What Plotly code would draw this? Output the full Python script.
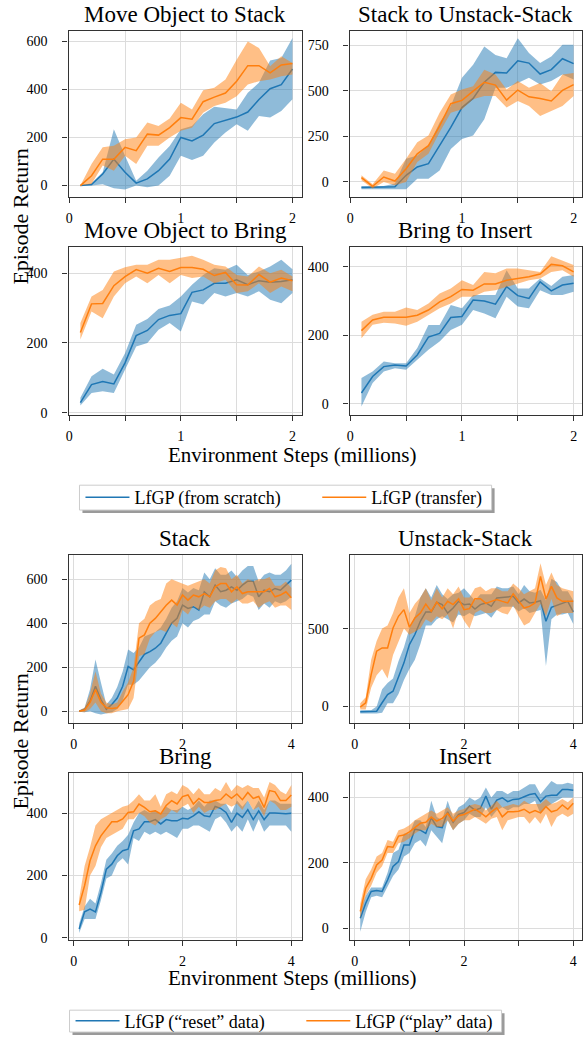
import plotly.graph_objects as go

W, H = 583, 1045
FONT = "Liberation Serif, Times New Roman, Times, DejaVu Serif, serif"
BLUE = "#1f77b4"
ORANGE = "#ff7f0e"
BLUE_FILL = "rgba(31,119,180,0.5)"
ORANGE_FILL = "rgba(255,127,14,0.5)"

# ---------------- data ----------------
x_top = [round(0.1 * i, 1) for i in range(1, 21)]
x_bot = [round(0.1 * i, 1) for i in range(1, 41)]

# Panel 1: Move Object to Stack
p1_blue = [0, 4, 48, 110, 55, 10, 28, 62, 110, 200, 186, 210, 258, 272, 285, 306, 358, 403, 420, 485]
p1_blue_lo = [0, 0, 5, -11, -16, 0, -7, 0, 41, 124, 106, 124, 179, 221, 255, 228, 290, 283, 310, 359]
p1_blue_hi = [0, 10, 55, 234, 124, 20, 62, 117, 165, 234, 248, 297, 328, 324, 317, 386, 428, 521, 531, 614]
p1_orange = [0, 41, 110, 110, 159, 145, 214, 210, 241, 283, 276, 349, 368, 385, 434, 499, 499, 469, 502, 508]
p1_orange_lo = [0, 7, 83, 62, 124, 90, 166, 166, 200, 228, 241, 303, 331, 345, 372, 421, 434, 441, 455, 462]
p1_orange_hi = [0, 90, 159, 166, 193, 200, 262, 248, 279, 345, 317, 397, 407, 441, 524, 600, 572, 497, 538, 510]

# Panel 2: Stack to Unstack-Stack
p2_blue = [-31, -31, -31, -27, 36, 82, 100, 199, 299, 408, 458, 547, 601, 598, 665, 652, 592, 616, 676, 649]
p2_blue_lo = [-40, -40, -40, -40, -40, 18, 18, 63, 181, 236, 254, 344, 516, 516, 543, 571, 534, 553, 589, 562]
p2_blue_hi = [-22, -22, -22, -9, 127, 145, 199, 326, 417, 571, 643, 743, 697, 679, 788, 707, 652, 688, 752, 752]
p2_orange = [24, -24, 27, 5, 72, 154, 199, 308, 429, 447, 498, 547, 531, 449, 504, 467, 458, 444, 502, 534]
p2_orange_lo = [9, -36, 0, -18, 0, 109, 154, 272, 380, 399, 453, 471, 471, 408, 444, 417, 362, 389, 417, 471]
p2_orange_hi = [36, -13, 63, 45, 127, 217, 254, 380, 480, 507, 525, 616, 589, 507, 553, 516, 543, 498, 589, 598]

# Panel 3: Move Object to Bring
p3_blue = [29, 81, 90, 83, 143, 221, 236, 267, 279, 284, 345, 352, 371, 371, 381, 367, 378, 374, 376, 381]
p3_blue_lo = [21, 57, 62, 57, 124, 190, 200, 238, 257, 233, 319, 310, 343, 333, 343, 333, 348, 324, 314, 343]
p3_blue_hi = [43, 105, 126, 110, 171, 252, 269, 297, 307, 333, 367, 395, 414, 410, 424, 395, 405, 419, 438, 411]
p3_orange = [230, 312, 313, 364, 390, 410, 400, 414, 405, 416, 416, 411, 393, 402, 367, 366, 396, 374, 386, 378]
p3_orange_lo = [210, 290, 271, 333, 371, 390, 371, 395, 371, 395, 386, 390, 371, 381, 343, 348, 371, 343, 362, 348]
p3_orange_hi = [257, 333, 352, 405, 417, 424, 424, 438, 438, 443, 450, 438, 424, 419, 395, 390, 419, 400, 410, 390]

# Panel 4: Bring to Insert
p4_blue = [32, 80, 109, 114, 111, 143, 195, 206, 252, 255, 303, 300, 291, 342, 316, 308, 356, 330, 347, 352]
p4_blue_lo = [-7, 61, 95, 104, 100, 129, 158, 182, 216, 231, 274, 264, 250, 313, 284, 279, 332, 318, 318, 327]
p4_blue_hi = [76, 95, 124, 119, 119, 163, 230, 230, 289, 279, 318, 318, 318, 390, 337, 337, 366, 344, 371, 376]
p4_orange = [214, 245, 253, 252, 253, 259, 274, 298, 313, 334, 332, 350, 350, 361, 366, 371, 379, 407, 403, 385]
p4_orange_lo = [192, 231, 237, 235, 228, 240, 260, 279, 293, 313, 313, 327, 332, 342, 352, 361, 366, 385, 390, 371]
p4_orange_hi = [240, 260, 269, 269, 281, 274, 293, 322, 337, 361, 347, 385, 381, 395, 395, 390, 385, 431, 419, 405]

# Panel 5: Stack
p5_blue = [0, 8, 45, 113, 53, 8, 30, 60, 113, 203, 188, 226, 259, 271, 286, 309, 354, 400, 422, 482,
           467, 475, 460, 543, 520, 573, 543, 550, 565, 550, 573, 591, 591, 520, 550, 543, 558, 550, 573, 596]
p5_blue_lo = [-3, -5, 0, -10, -15, -10, -5, 10, 50, 120, 120, 140, 170, 200, 220, 250, 290, 320, 340, 400,
              380, 410, 420, 440, 440, 500, 480, 470, 490, 500, 510, 530, 520, 460, 490, 470, 500, 490, 500, 520]
p5_blue_hi = [3, 15, 100, 235, 130, 30, 60, 110, 180, 280, 265, 290, 340, 350, 360, 380, 420, 470, 500, 560,
              540, 560, 550, 630, 600, 650, 620, 620, 640, 610, 640, 660, 660, 590, 620, 630, 620, 620, 640, 670]
p5_orange = [0, 5, 40, 98, 40, 15, 12, 15, 45, 75, 136, 332, 347, 400, 422, 452, 482, 505, 482, 528,
             505, 528, 520, 535, 520, 565, 580, 580, 543, 565, 535, 543, 543, 543, 543, 558, 520, 528, 543, 516]
p5_orange_lo = [-3, -5, 10, 40, 0, -10, -10, 0, 5, 10, 60, 250, 260, 330, 360, 370, 360, 400, 380, 460,
                440, 480, 460, 480, 470, 500, 510, 510, 490, 510, 490, 490, 500, 470, 490, 500, 470, 480, 480, 460]
p5_orange_hi = [3, 15, 80, 180, 80, 40, 30, 40, 90, 130, 200, 400, 420, 480, 500, 510, 580, 600, 590, 580,
                570, 580, 590, 600, 580, 640, 655, 650, 600, 620, 580, 600, 590, 600, 600, 610, 570, 570, 590, 560]

# Panel 6: Unstack-Stack
p6_blue = [-34, -34, -34, -30, 24, 77, 98, 184, 280, 397, 462, 547, 607, 607, 669, 654, 600, 632, 675, 654,
           658, 626, 654, 665, 643, 697, 701, 701, 707, 665, 690, 665, 669, 679, 547, 637, 650, 665, 675, 607]
p6_blue_lo = [-45, -45, -45, -45, -40, 20, 20, 80, 170, 240, 300, 400, 520, 520, 560, 580, 560, 540, 590, 580,
              600, 580, 590, 600, 570, 620, 640, 640, 640, 610, 630, 600, 610, 620, 260, 560, 590, 590, 600, 530]
p6_blue_hi = [-25, -25, -25, 0, 110, 150, 180, 290, 380, 500, 580, 700, 760, 700, 780, 720, 690, 720, 730, 760,
              720, 680, 720, 720, 720, 770, 760, 760, 770, 720, 780, 740, 730, 750, 680, 820, 800, 740, 740, 680]
p6_orange = [-4, 24, 205, 355, 376, 376, 504, 579, 622, 509, 568, 600, 658, 611, 671, 628, 675, 654, 692, 622,
             628, 692, 692, 662, 675, 686, 675, 665, 724, 675, 632, 643, 665, 835, 690, 771, 697, 675, 675, 675]
p6_orange_lo = [-20, -20, 120, 200, 240, 180, 330, 420, 500, 460, 480, 500, 560, 540, 580, 560, 590, 500, 620, 550,
                500, 600, 620, 600, 600, 620, 600, 590, 650, 580, 520, 540, 600, 660, 580, 690, 580, 600, 600, 600]
p6_orange_hi = [20, 60, 300, 420, 500, 520, 600, 700, 760, 600, 660, 700, 760, 680, 760, 700, 760, 720, 770, 700,
                700, 760, 770, 740, 760, 760, 740, 740, 790, 760, 720, 740, 760, 920, 780, 860, 780, 760, 750, 740]

# Panel 7: Bring
p7_blue = [28, 83, 92, 83, 145, 220, 236, 263, 279, 284, 343, 349, 372, 372, 379, 365, 379, 375, 375, 383,
           381, 391, 404, 391, 388, 421, 415, 402, 370, 400, 386, 411, 379, 407, 379, 400, 400, 398, 398, 399]
p7_blue_lo = [15, 60, 60, 60, 120, 190, 200, 240, 255, 235, 320, 310, 340, 330, 340, 330, 340, 330, 320, 350,
              350, 360, 360, 350, 340, 380, 390, 370, 340, 360, 340, 380, 340, 380, 340, 360, 360, 360, 360, 340]
p7_blue_hi = [45, 100, 125, 110, 175, 250, 270, 295, 310, 330, 370, 400, 410, 400, 410, 395, 420, 410, 410, 420,
              410, 420, 440, 420, 440, 440, 430, 430, 400, 440, 420, 440, 410, 440, 410, 440, 440, 430, 430, 430]
p7_orange = [105, 167, 247, 295, 327, 351, 372, 372, 381, 402, 404, 429, 418, 404, 407, 397, 424, 440, 429, 453,
             458, 429, 447, 434, 434, 440, 443, 461, 447, 461, 443, 466, 447, 453, 418, 472, 468, 440, 440, 458]
p7_orange_lo = [85, 90, 200, 230, 290, 320, 330, 340, 350, 380, 380, 400, 390, 370, 360, 380, 390, 410, 400, 420,
                430, 400, 420, 400, 410, 410, 420, 430, 420, 430, 410, 440, 410, 420, 390, 440, 430, 410, 410, 420]
p7_orange_hi = [125, 230, 290, 360, 380, 390, 400, 410, 420, 425, 440, 460, 440, 440, 460, 420, 460, 470, 460, 490,
                480, 460, 480, 460, 460, 480, 470, 500, 470, 490, 480, 490, 480, 480, 450, 500, 490, 470, 460, 490]

# Panel 8: Insert
p8_blue = [31, 77, 113, 116, 113, 148, 189, 204, 255, 255, 303, 300, 290, 338, 311, 308, 356, 324, 348, 354,
           374, 361, 367, 404, 364, 392, 399, 387, 394, 395, 402, 409, 412, 387, 404, 407, 407, 424, 424, 422]
p8_blue_lo = [-10, 50, 95, 100, 95, 125, 160, 180, 220, 230, 260, 270, 250, 300, 280, 260, 330, 300, 320, 330,
              350, 340, 340, 370, 340, 360, 370, 360, 370, 370, 380, 380, 390, 350, 370, 380, 390, 400, 400, 400]
p8_blue_hi = [55, 100, 125, 125, 125, 170, 230, 240, 290, 290, 330, 330, 310, 390, 340, 330, 390, 340, 370, 380,
              400, 390, 400, 430, 400, 420, 420, 410, 420, 420, 430, 440, 440, 410, 430, 450, 440, 440, 445, 440]
p8_orange = [52, 123, 153, 194, 209, 250, 248, 282, 285, 295, 308, 321, 324, 340, 328, 336, 351, 328, 344, 348,
             356, 364, 354, 341, 356, 368, 341, 356, 356, 358, 364, 353, 360, 353, 372, 356, 361, 377, 364, 382]
p8_orange_lo = [30, 100, 130, 170, 190, 230, 230, 260, 265, 275, 290, 300, 300, 320, 310, 310, 330, 300, 320, 330,
                330, 340, 330, 320, 335, 340, 300, 330, 335, 340, 340, 320, 340, 320, 350, 310, 340, 350, 340, 350]
p8_orange_hi = [75, 150, 180, 220, 230, 270, 265, 300, 305, 315, 330, 340, 350, 360, 350, 360, 370, 350, 360, 365,
                375, 380, 375, 360, 375, 390, 370, 375, 380, 375, 390, 380, 380, 380, 395, 380, 385, 395, 385, 400]

titles = ["Move Object to Stack", "Stack to Unstack-Stack", "Move Object to Bring", "Bring to Insert",
          "Stack", "Unstack-Stack", "Bring", "Insert"]
legend_top = ["LfGP (from scratch)", "LfGP (transfer)"]
legend_bot = ["LfGP (\u201creset\u201d data)", "LfGP (\u201cplay\u201d data)"]
x_label = "Environment Steps (millions)"
y_label = "Episode Return"

panels = [
    (x_top, p1_blue, p1_blue_lo, p1_blue_hi, p1_orange, p1_orange_lo, p1_orange_hi),
    (x_top, p2_blue, p2_blue_lo, p2_blue_hi, p2_orange, p2_orange_lo, p2_orange_hi),
    (x_top, p3_blue, p3_blue_lo, p3_blue_hi, p3_orange, p3_orange_lo, p3_orange_hi),
    (x_top, p4_blue, p4_blue_lo, p4_blue_hi, p4_orange, p4_orange_lo, p4_orange_hi),
    (x_bot, p5_blue, p5_blue_lo, p5_blue_hi, p5_orange, p5_orange_lo, p5_orange_hi),
    (x_bot, p6_blue, p6_blue_lo, p6_blue_hi, p6_orange, p6_orange_lo, p6_orange_hi),
    (x_bot, p7_blue, p7_blue_lo, p7_blue_hi, p7_orange, p7_orange_lo, p7_orange_hi),
    (x_bot, p8_blue, p8_blue_lo, p8_blue_hi, p8_orange, p8_orange_lo, p8_orange_hi),
]

# ---------------- layout geometry (pixels) ----------------
col_x = [(66, 301), (349, 583)]
row_y = [(31, 198), (248, 417), (558, 727), (777, 945)]
yranges = [(-47, 644), (-82, 829), (-5, 476), (-31, 459), (-53, 711), (-105, 974), (-6, 530), (-34, 476)]
xranges = [(-0.006, 2.085), (-0.006, 2.075), (-0.006, 2.085), (-0.006, 2.075),
           (-0.095, 4.195), (-0.095, 4.16), (-0.095, 4.195), (-0.095, 4.16)]
ytick_vals = [[0, 200, 400, 600], [0, 250, 500, 750], [0, 200, 400], [0, 200, 400],
              [0, 200, 400, 600], [0, 500], [0, 200, 400], [0, 200, 400]]

# legend frames in pixels: (left, top, right, bottom)
legend_boxes = [(77, 488, 492, 513), (67, 1016, 502, 1038)]


def px_x(p):
    return p / W


def px_y(p):
    return 1 - p / H


fig = go.Figure()
layout = dict(
    width=W, height=H, margin=dict(l=0, r=0, t=0, b=0),
    paper_bgcolor="white", plot_bgcolor="white",
    font=dict(family=FONT, color="black", size=14),
    showlegend=True,
)

annotations = []
shapes = []

NB = "\u00a0"
for i, (xs, b, blo, bhi, o, olo, ohi) in enumerate(panels):
    r, c = divmod(i, 2)
    ax = "" if i == 0 else str(i + 1)
    xa, ya = "x" + ax, "y" + ax
    top = i < 4
    leg = "legend" if top else "legend2"
    if top:
        names = [legend_top[0] + NB * 7, legend_top[1]]
    else:
        names = [legend_bot[0] + NB * 7, legend_bot[1]]
    for mean, lo, hi, col, fcol, nm in ((b, blo, bhi, BLUE, BLUE_FILL, names[0]),
                                        (o, olo, ohi, ORANGE, ORANGE_FILL, names[1])):
        fig.add_trace(go.Scatter(
            x=list(xs) + list(xs)[::-1], y=list(hi) + list(lo)[::-1],
            fill="toself", fillcolor=fcol, line=dict(width=0), mode="lines",
            hoverinfo="skip", showlegend=False, xaxis=xa, yaxis=ya))
        fig.add_trace(go.Scatter(
            x=xs, y=mean, mode="lines", line=dict(color=col, width=1.5),
            name=nm, legend=leg, showlegend=(i in (0, 4)), xaxis=xa, yaxis=ya))

    x0, x1 = col_x[c]
    y0, y1 = row_y[r]
    if top:
        tv = [0, 0.5, 1, 1.5, 2]
        tt = ["0", "", "1", "", "2"]
    else:
        tv = [0, 1, 2, 3, 4]
        tt = ["0", "", "2", "", "4"]
    common = dict(showline=True, mirror=True, linecolor="#333333", linewidth=1.3,
                  showgrid=True, gridcolor="#dcdcdc", gridwidth=1,
                  zeroline=False, ticks="outside", ticklen=5, tickwidth=1.2,
                  tickcolor="#333333", tickfont=dict(family=FONT, size=14, color="black"))
    layout["xaxis" + ax] = dict(domain=[px_x(x0), px_x(x1)], range=list(xranges[i]),
                                anchor=ya, tickvals=tv, ticktext=tt,
                                ticklabelstandoff=3, **common)
    layout["yaxis" + ax] = dict(domain=[px_y(y1), px_y(y0)], range=list(yranges[i]),
                                anchor=xa, tickvals=ytick_vals[i],
                                ticklabelstandoff=12, **common)
    annotations.append(dict(text=titles[i], x=px_x((x0 + x1) / 2), y=px_y(y0 - 16),
                            xref="paper", yref="paper", showarrow=False,
                            xanchor="center", yanchor="middle",
                            font=dict(family=FONT, size=23, color="black")))

# shared axis titles
for yc in (458, 984):
    annotations.append(dict(text=x_label, x=px_x(291), y=px_y(yc), xref="paper", yref="paper",
                            showarrow=False, xanchor="center", yanchor="middle",
                            font=dict(family=FONT, size=21, color="black")))
for yc in (218, 746):
    annotations.append(dict(text=y_label, x=px_x(18), y=px_y(yc), xref="paper", yref="paper",
                            showarrow=False, xanchor="center", yanchor="middle", textangle=-90,
                            font=dict(family=FONT, size=22, color="black")))

# legend frames with drop shadow, drawn as shapes behind the (transparent) legends
for (lx0, ly0, lx1, ly1) in legend_boxes:
    shapes.append(dict(type="rect", xref="paper", yref="paper",
                       x0=px_x(lx0 + 3), x1=px_x(lx1 + 3), y0=px_y(ly1 + 3), y1=px_y(ly0 + 3),
                       fillcolor="rgba(120,120,120,0.75)", line=dict(width=0), layer="below"))
    shapes.append(dict(type="rect", xref="paper", yref="paper",
                       x0=px_x(lx0), x1=px_x(lx1), y0=px_y(ly1), y1=px_y(ly0),
                       fillcolor="white", line=dict(color="#cccccc", width=1), layer="below"))

(t0, t1, t2, t3), (b0, b1, b2, b3) = legend_boxes
layout["legend"] = dict(orientation="h", x=px_x(t0 + 1), y=px_y((t1 + t3) / 2), xanchor="left",
                        yanchor="middle", bgcolor="rgba(0,0,0,0)", borderwidth=0, itemwidth=44,
                        font=dict(family=FONT, size=18, color="black"))
layout["legend2"] = dict(orientation="h", x=px_x(b0 + 1), y=px_y((b1 + b3) / 2), xanchor="left",
                         yanchor="middle", bgcolor="rgba(0,0,0,0)", borderwidth=0, itemwidth=44,
                         font=dict(family=FONT, size=18, color="black"))
layout["annotations"] = annotations
layout["shapes"] = shapes
fig.update_layout(**layout)
fig.write_html("out.html")
